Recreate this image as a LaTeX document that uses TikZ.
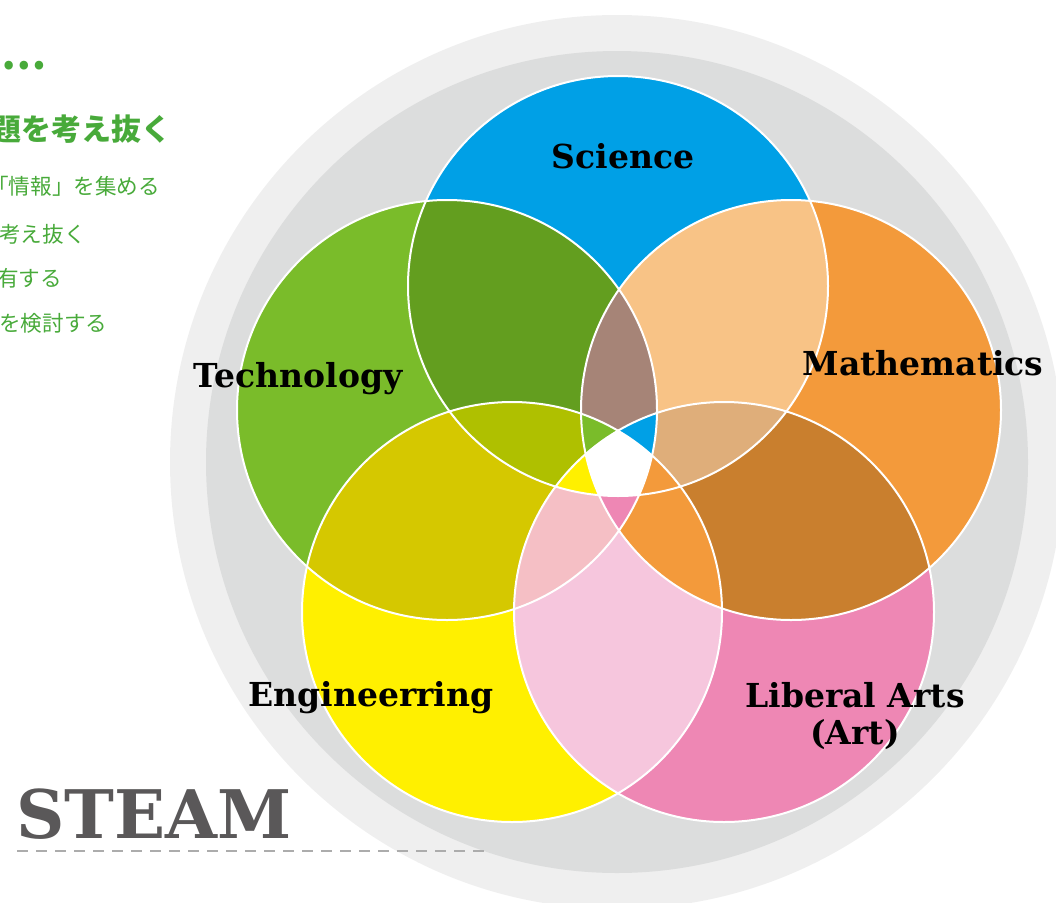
\documentclass[tikz,border=0pt]{standalone}
\usepackage{fontspec}
\setmainfont{DejaVu Serif}
\newfontfamily\jpfont{Noto Sans CJK JP}
\definecolor{ringout}{RGB}{239,239,239}
\definecolor{ringin}{RGB}{220,221,221}
\definecolor{sciblue}{RGB}{0,160,230}
\definecolor{techgreen}{RGB}{122,188,42}
\definecolor{engyellow}{RGB}{255,240,0}
\definecolor{artpink}{RGB}{238,135,180}
\definecolor{mathorange}{RGB}{243,154,59}
\definecolor{scitech}{RGB}{99,158,31}
\definecolor{techeng}{RGB}{213,200,0}
\definecolor{engart}{RGB}{246,198,221}
\definecolor{artmath}{RGB}{201,127,46}
\definecolor{mathsci}{RGB}{248,195,134}
\definecolor{tsm}{RGB}{166,132,119}
\definecolor{ste}{RGB}{175,192,0}
\definecolor{tea}{RGB}{245,191,197}
\definecolor{ams}{RGB}{223,174,122}
\definecolor{jpgreen}{RGB}{72,170,58}
\definecolor{steamgray}{RGB}{90,88,89}
\newcommand{\rad}{210pt}
\newcommand{\cl}[1]{\clip (#1) circle (\rad);}
\newcommand{\zone}[2]{\begin{scope}#2\fill[#1] (0,0) rectangle (1056,902);\end{scope}}
\begin{document}
\begin{tikzpicture}[x=1pt,y=-1pt,
    field/.style={font=\bfseries\fontsize{33}{38}\selectfont,anchor=base,inner sep=0pt},
    jpline/.style={font=\jpfont\fontsize{21.6}{24}\selectfont,text=jpgreen,anchor=base west,inner sep=0pt}]
  \useasboundingbox (0,0) rectangle (1056,902);
  \clip (0,0) rectangle (1056,902);
  % background rings
  \fill[ringout] (617,462) circle (447pt);
  \fill[ringin] (617,462) circle (411pt);
  % circle centres
  \coordinate (S) at (618,286);
  \coordinate (T) at (447,410);
  \coordinate (M) at (791,410);
  \coordinate (E) at (512,612);
  \coordinate (L) at (724,612);
  % single fields
  \fill[sciblue] (S) circle (\rad);
  \fill[techgreen] (T) circle (\rad);
  \fill[mathorange] (M) circle (\rad);
  \fill[engyellow] (E) circle (\rad);
  \fill[artpink] (L) circle (\rad);
  % pairs
  \zone{scitech}{\cl{S}\cl{T}}
  \zone{techeng}{\cl{T}\cl{E}}
  \zone{engart}{\cl{E}\cl{L}}
  \zone{artmath}{\cl{L}\cl{M}}
  \zone{mathsci}{\cl{M}\cl{S}}
  % triples
  \zone{tsm}{\cl{T}\cl{S}\cl{M}}
  \zone{ste}{\cl{S}\cl{T}\cl{E}}
  \zone{tea}{\cl{T}\cl{E}\cl{L}}
  \zone{mathorange}{\cl{E}\cl{L}\cl{M}}
  \zone{ams}{\cl{L}\cl{M}\cl{S}}
  % four at once
  \zone{techgreen}{\cl{S}\cl{T}\cl{E}\cl{M}}
  \zone{sciblue}{\cl{S}\cl{T}\cl{M}\cl{L}}
  \zone{engyellow}{\cl{S}\cl{T}\cl{E}\cl{L}}
  \zone{artpink}{\cl{T}\cl{E}\cl{L}\cl{M}}
  \zone{mathorange}{\cl{S}\cl{E}\cl{L}\cl{M}}
  % all five
  \zone{white}{\cl{S}\cl{T}\cl{E}\cl{L}\cl{M}}
  \foreach \c in {S,T,M,E,L}
    \draw[white,line width=2pt] (\c) circle (\rad);
  % labels
  \node[field] (science) at (623,168) {Science};
  \node[field] (technology) at (298,387) {Technology};
  \node[field] (mathematics) at (923,375) {Mathematics};
  \node[field] (engineering) at (371,706) {Engineerring};
  \node[field] (liberal) at (855,707) {Liberal Arts};
  \node[field] (art) at (855,744) {(Art)};
  % left column
  \node[jpline,font=\jpfont\bfseries\fontsize{40}{42}\selectfont] (dots) at (1,69) {…};
  \node[jpline,font=\jpfont\bfseries\fontsize{30}{32}\selectfont] (title) at (-9,140) {題を考え抜く};
  \node[jpline] (info) at (-13,194) {「情報」を集める};
  \node[jpline] (think) at (-1,242) {考え抜く};
  \node[jpline] (share) at (-3,286) {有する};
  \node[jpline] (review) at (-1,331) {を検討する};
  \node[font=\bfseries\fontsize{67}{72}\selectfont,text=steamgray,anchor=base west,inner sep=0pt] (steam) at (16,838) {STEAM};
  \coordinate (dashl) at (17,851);
  \coordinate (dashr) at (490,851);
  \draw[gray!65,line width=2.7pt,dash pattern=on 11pt off 8pt] (dashl) -- (dashr);
\end{tikzpicture}
\end{document}
